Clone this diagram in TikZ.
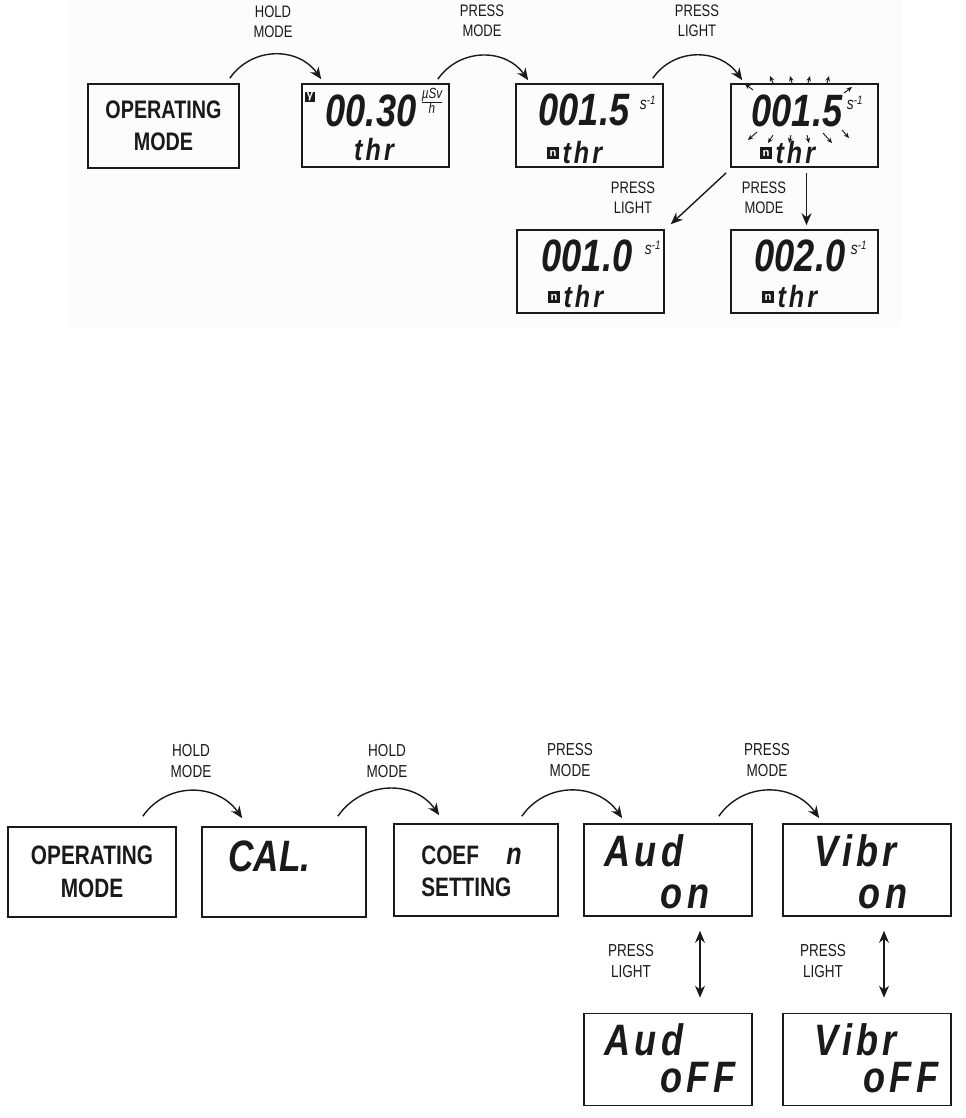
\documentclass[tikz,border=0pt]{standalone}
\usepackage{fontspec}
\setmainfont{Liberation Sans}
\newfontfamily\lblfont{Liberation Sans}[FakeStretch=0.78]
\newfontfamily\lcdfont{Liberation Sans}[FakeStretch=0.8]
\newfontfamily\segfont{Liberation Sans}[FakeStretch=0.82,LetterSpace=10]
\usetikzlibrary{arrows.meta,positioning,calc}
\definecolor{tinta}{HTML}{1A1A1A}
\definecolor{fondo}{HTML}{FCFCFC}
\tikzset{
  scrn/.style={draw=tinta,line width=1.2pt,minimum width=110.25pt,minimum height=62.25pt,inner sep=0pt},
  scrnb/.style={scrn,minimum width=126pt,minimum height=69pt},
  hop/.style={tinta,line width=1.05pt,-{Stealth[length=9pt,width=7.5pt]},out=55,in=125,looseness=1.1},
  push/.style={tinta,line width=1.05pt,-{Stealth[length=9pt,width=7.5pt]}},
  both/.style={tinta,line width=1.05pt,{Stealth[length=9pt,width=7.5pt]}-{Stealth[length=9pt,width=7.5pt]}},
  spark/.style={tinta,line width=0.7pt,-{Stealth[length=4pt,width=3.5pt]}},
  press/.style={font=\lblfont\fontsize{12.5}{15}\selectfont,align=center,text=tinta,inner sep=0pt},
  pressb/.style={press,font=\lblfont\fontsize{13}{15.5}\selectfont},
  modo/.style={font=\lblfont\bfseries\fontsize{19}{24}\selectfont,align=center,text=tinta},
  digs/.style={font=\lcdfont\bfseries\itshape\fontsize{34}{34}\selectfont,text=tinta,inner sep=0pt},
  seg/.style={font=\segfont\bfseries\itshape\fontsize{23}{23}\selectfont,text=tinta,inner sep=0pt},
  segb/.style={font=\segfont\bfseries\itshape\fontsize{33}{33}\selectfont,text=tinta,inner sep=0pt},
  unit/.style={font=\lcdfont\itshape\fontsize{13}{13}\selectfont,text=tinta,inner sep=0pt},
  badge/.style={fill=tinta,text=white,font=\bfseries\fontsize{8.5}{8.5}\selectfont,inner sep=0pt,minimum size=9.5pt}
}
\begin{document}
\begin{tikzpicture}[x=0.75pt,y=-0.75pt]
  \useasboundingbox (0,0) rectangle (966,1118);
  \fill[fondo] (70,0) rectangle (902,327);
  % pantallas arriba
  \node[scrn,minimum width=113.25pt,minimum height=63pt,modo] (op1) at (163.5,126) {OPERATING\\MODE};
  \node[scrn] (p2) at (375.5,125.5) {};
  \node[scrn] (p3) at (589.5,125.5) {};
  \node[scrn] (p4) at (804.5,125.5) {};
  \node[scrn] (p5) at (590.5,271.5) {};
  \node[scrn] (p6) at (804.5,271.5) {};
  % contenido
  \node[badge,minimum size=8pt] (gam) at (310,97) {γ};
  \node[digs] (v2) at (371,111) {00.30};
  \node[unit,font=\lcdfont\itshape\fontsize{11}{11}\selectfont] (u2) at (432,101) {$\frac{\textit{µSv}}{\textit{h}}$};
  \node[seg] (t2) at (374,150) {thr};
  \node[digs] (v3) at (584,110) {001.5};
  \node[unit] (s3) at (648,103) {s\textsuperscript{-1}};
  \node[badge] (m3) at (553,153) {n};
  \node[seg,right=2pt of m3] (t3) {thr};
  \node[digs] (v4) at (797,111) {001.5};
  \node[unit] (s4) at (855,103) {s\textsuperscript{-1}};
  \node[badge] (m4) at (766,153) {n};
  \node[seg,right=2pt of m4] (t4) {thr};
  \node[digs] (v5) at (587,256) {001.0};
  \node[unit] (s5) at (653,248) {s\textsuperscript{-1}};
  \node[badge] (m5) at (554,297) {n};
  \node[seg,right=2pt of m5] (t5) {thr};
  \node[digs] (v6) at (800,256) {002.0};
  \node[unit] (s6) at (859,248) {s\textsuperscript{-1}};
  \node[badge] (m6) at (768,297) {n};
  \node[seg,right=2pt of m6] (t6) {thr};
  % parpadeo
  \foreach \a/\b/\c/\d in {753/90/745/84,773/83/770/76,792/83/790/76,808/83/810/76,827/83/829/76,844/93/852/87,
                           757/132/748/140,773/135/768/143,791/135/789/143,807/135/809/143,823/133/832/143,842/130/849/138}
    \draw[spark] (\a,\b) -- (\c,\d);
  % flechas arriba
  \draw[hop] ([shift={(-10,-5)}]op1.north east) to ([shift={(20,-4)}]p2.north west);
  \draw[hop] ([shift={(-12,-4)}]p2.north east) to ([shift={(13,-3)}]p3.north west);
  \draw[hop] ([shift={(-11,-5)}]p3.north east) to ([shift={(12,-3)}]p4.north west);
  \draw[push] ([shift={(-4,5)}]p4.south west) -- ([shift={(6,-5)}]p5.north east);
  \draw[push] ([shift={(2,5)}]p4.south) -- ([shift={(2,-4)}]p6.north);
  \node[press] (l1) at (273,22) {HOLD\\MODE};
  \node[press] (l2) at (482,21) {PRESS\\MODE};
  \node[press] (l3) at (697,21) {PRESS\\LIGHT};
  \node[press] (l4) at (633,198) {PRESS\\LIGHT};
  \node[press] (l5) at (764,198) {PRESS\\MODE};
  % pantallas abajo
  \node[scrnb,minimum height=67.5pt,modo,font=\lblfont\bfseries\fontsize{20}{25}\selectfont] (op2) at (92,872) {OPERATING\\MODE};
  \node[scrnb,minimum width=123pt,minimum height=67.5pt] (cal) at (284,872) {};
  \node[scrnb,minimum width=123pt] (coef) at (476,870) {};
  \node[scrnb] (aon) at (668,870) {};
  \node[scrnb] (von) at (867,870) {};
  \node[scrnb] (aoff) at (668,1059.5) {};
  \node[scrnb] (voff) at (867,1059.5) {};
  \node[segb,anchor=west,font=\lcdfont\bfseries\itshape\fontsize{33}{33}\selectfont] (caltxt) at (228,856) {CAL.};
  \node[modo,align=left,anchor=west,font=\lblfont\bfseries\fontsize{20}{24}\selectfont,inner sep=0pt] (coeftxt) at (421,871) {COEF\\SETTING};
  \node[seg] (nseg) at (514,856) {n};
  \node[segb] (aud1) at (644,851) {Aud};
  \node[segb] (on1) at (685,897) {on};
  \node[segb] (vib1) at (856,851) {Vibr};
  \node[segb] (on2) at (883,897) {on};
  \node[segb] (aud2) at (644,1040) {Aud};
  \node[segb] (off1) at (698,1078) {oFF};
  \node[segb] (vib2) at (856,1040) {Vibr};
  \node[segb] (off2) at (901,1078) {oFF};
  % flechas abajo
  \draw[hop] ([shift={(-34,-10)}]op2.north east) to ([shift={(41,-8)}]cal.north west);
  \draw[hop] ([shift={(-29,-10)}]cal.north east) to ([shift={(46,-8)}]coef.north west);
  \draw[hop] ([shift={(-37,-7)}]coef.north east) to ([shift={(39,-5)}]aon.north west);
  \draw[hop] ([shift={(-34,-7)}]aon.north east) to ([shift={(37,-5)}]von.north west);
  \draw[both] ([shift={(32,14)}]aon.south) -- ([shift={(32,-15)}]aoff.north);
  \draw[both] ([shift={(17,14)}]von.south) -- ([shift={(17,-15)}]voff.north);
  \node[pressb] (l6) at (191,761) {HOLD\\MODE};
  \node[pressb] (l7) at (387,761) {HOLD\\MODE};
  \node[pressb] (l8) at (570,760) {PRESS\\MODE};
  \node[pressb] (l9) at (767,760) {PRESS\\MODE};
  \node[pressb] (l10) at (631,961) {PRESS\\LIGHT};
  \node[pressb] (l11) at (823,961) {PRESS\\LIGHT};
\end{tikzpicture}
\end{document}
